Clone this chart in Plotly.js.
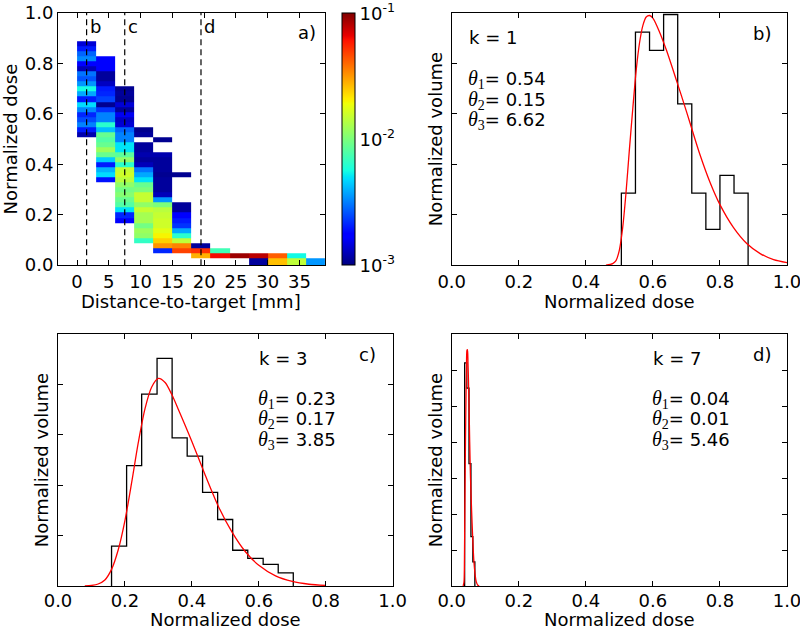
<!DOCTYPE html>
<html><head><meta charset="utf-8">
<script src="https://cdn.plot.ly/plotly-3.0.1.min.js"></script>
<style>html,body{margin:0;padding:0;background:#fff}</style>
</head><body><div id="chart" style="width:800px;height:630px"></div>
<script>
const N = null;
// ---------- Panel a: 2D histogram (fraction of voxels, log colour) ----------
const distanceEdges = [0, 3, 6, 9, 12, 15, 18, 21, 24, 27, 30, 33, 36, 39];
const doseEdges = [0, 0.028, 0.048, 0.068, 0.088, 0.108, 0.128, 0.148, 0.168, 0.188, 0.208,
  0.228, 0.248, 0.268, 0.288, 0.308, 0.328, 0.348, 0.368, 0.388, 0.408, 0.428, 0.448, 0.468,
  0.488, 0.508, 0.528, 0.548, 0.568, 0.588, 0.608, 0.628, 0.648, 0.668, 0.688, 0.708, 0.728,
  0.748, 0.768, 0.788, 0.808, 0.828, 0.848, 0.868, 0.888];
// each array: dose bins from the bottom row upward
const frac_0_3 = [...Array(25).fill(N), 0.0012, 0.002, 0.0032, 0.0025, 0.0021, 0.0033, 0.0048, 0.002,
  0.0038, 0.0056, 0.0035, 0.0026, 0.003, 0.00126, 0.00178, 0.0033, 0.0028, 0.002, 0.00141];
const frac_3_6 = [...Array(16).fill(N), 0.0019, 0.0048, 0.004, 0.002, 0.0045, 0.0089, 0.012, 0.0089,
  0.0079, 0.0089, 0.0042, 0.0063, 0.0032, 0.0032, 0.00224, 0.00107, 0.0024, 0.0021, 0.002, 0.0013,
  0.00112, 0.00112, 0.00178, 0.00166, 0.00178];
const frac_6_9 = [...Array(8).fill(N), 0.00178, 0.0021, 0.005, 0.0079, 0.0089, 0.0105, 0.0095, 0.0112,
  0.0141, 0.0158, 0.0151, 0.0063, 0.0112, 0.0083, 0.005, 0.005, 0.0032, 0.0032, 0.0028, 0.00141,
  0.00132, 0.00158, 0.00112, 0.00141, 0.00107, 0.00112, 0.00107];
const frac_9_12 = [...Array(4).fill(N), 0.0066, 0.0112, 0.012, 0.0095, 0.0126, 0.0126, 0.0151, 0.0112,
  0.0151, 0.0151, 0.01, 0.0089, 0.005, 0.0038, 0.003, 0.00126, 0.00112, 0.0012, 0.00112, 0.00112,
  N, 0.00112, 0.00105];
const frac_12_15 = [N, N, 0.0021, 0.032, 0.024, 0.02, 0.0178, 0.0158, 0.0158, 0.0151, 0.0141, 0.01,
  0.0035, 0.00126, 0.00112, 0.00112, 0.00112, 0.00107, 0.00112, 0.00112, 0.00112, 0.0012, N, N, 0.00107];
const frac_15_18 = [N, N, 0.048, 0.035, 0.0145, 0.0063, 0.0038, 0.00224, 0.002, 0.00174, 0.00112,
  0.00112, N, N, N, N, N, 0.00107];
const frac_18_21 = [N, 0.028, 0.052, 0.00112];
const frac_21_24 = [N, 0.063, 0.0072];
const frac_24_27 = [N, 0.089];
const frac_27_30 = [0.00112, 0.079];
const frac_30_33 = [0.026, 0.042];
const frac_33_36 = [0.0145, 0.0055];
const frac_36_39 = [0.0035];
const sliceDistances = [1.5, 7.5, 19.5];
const sliceLabels = ['b', 'c', 'd'];
const distTicks = [0, 5, 10, 15, 20, 25, 30, 35];
const doseTicks = [0, 0.2, 0.4, 0.6, 0.8, 1.0];
const cbTickVals = [-3, -2, -1];
const cbTickText = ['10<sup>-3</sup>', '10<sup>-2</sup>', '10<sup>-1</sup>'];

// ---------- Panel b (k = 1) ----------
const bEdges = [0.506, 0.548, 0.590, 0.632, 0.674, 0.716, 0.758, 0.800, 0.842, 0.884];
const bHeights = [1.43, 4.62, 4.26, 4.97, 3.20, 1.43, 0.71, 1.78, 1.43];
const bFitX = [0.46, 0.48, 0.49, 0.50, 0.51, 0.52, 0.53, 0.54, 0.55, 0.56, 0.57, 0.58, 0.59, 0.60,
  0.62, 0.64, 0.67, 0.70, 0.72, 0.74, 0.77, 0.80, 0.84, 0.88, 0.92, 0.96, 1.0];
const bFitY = [0, 0.03, 0.09, 0.3, 0.75, 1.45, 2.3, 3.1, 3.85, 4.4, 4.75, 4.92, 4.95, 4.9,
  4.62, 4.27, 3.67, 3.05, 2.62, 2.2, 1.65, 1.2, 0.75, 0.43, 0.23, 0.11, 0.05];

// ---------- Panel c (k = 3) ----------
const cEdges = [0.160, 0.205, 0.250, 0.296, 0.341, 0.386, 0.432, 0.477, 0.522, 0.567, 0.613, 0.658, 0.703];
const cHeights = [0.79, 2.39, 3.81, 4.52, 2.94, 2.58, 1.86, 1.32, 0.71, 0.55, 0.43, 0.26];
const cFitX = [0.08, 0.10, 0.12, 0.14, 0.16, 0.18, 0.20, 0.22, 0.24, 0.26, 0.28, 0.30, 0.32, 0.34,
  0.36, 0.40, 0.44, 0.48, 0.52, 0.56, 0.60, 0.65, 0.70, 0.75, 0.80];
const cFitY = [0, 0.01, 0.04, 0.12, 0.33, 0.72, 1.3, 2.05, 2.85, 3.52, 3.95, 4.12, 4.04, 3.8,
  3.5, 2.87, 2.2, 1.57, 1.07, 0.68, 0.41, 0.2, 0.09, 0.035, 0.01];

// ---------- Panel d (k = 7) ----------
const dEdges = [0.0385, 0.045, 0.0515, 0.0573, 0.063, 0.069];
const dHeights = [62, 55, 34, 13.7, 6.7];
const dFitX = [0.034, 0.0365, 0.038, 0.0395, 0.041, 0.0425, 0.044, 0.0455, 0.047, 0.0485, 0.050,
  0.0517, 0.0536, 0.056, 0.0593, 0.0625, 0.066, 0.0696, 0.073, 0.078, 0.082];
const dFitY = [0, 1, 8, 25, 40, 52, 61, 65.5, 65.7, 62, 57, 50, 40, 30, 21, 13.5, 7, 3.3, 1.2, 0.2, 0];

const panelText = {
  b: {k: 'k = 1', th: ['0.54', '0.15', '6.62']},
  c: {k: 'k = 3', th: ['0.23', '0.17', '3.85']},
  d: {k: 'k = 7', th: ['0.04', '0.01', '5.46']}
};
const xTitles = ['Distance-to-target [mm]', 'Normalized dose', 'Normalized dose', 'Normalized dose'];

// ---------- build ----------
const W = 800, H = 630;
const ML = 58.3, MR = 13.3, MT = 12.7, MB = 44;
const PW = W - ML - MR, PH = H - MT - MB;
const px = v => (v - ML) / PW, py = v => 1 - (v - MT) / PH;
const FONT = 'DejaVu Sans, Arial, sans-serif';

const columns = [frac_0_3, frac_3_6, frac_6_9, frac_9_12, frac_12_15, frac_15_18, frac_18_21,
  frac_21_24, frac_24_27, frac_27_30, frac_30_33, frac_33_36, frac_36_39];
const nRows = doseEdges.length - 1;
const z = [];
for (let r = 0; r < nRows; r++) {
  z.push(columns.map(col => (col[r] == null ? null : Math.log10(col[r]))));
}

const jet = [[0, 'rgb(0,0,128)'], [0.11, 'rgb(0,0,255)'], [0.125, 'rgb(0,0,255)'],
  [0.34, 'rgb(0,219,255)'], [0.35, 'rgb(0,229,247)'], [0.375, 'rgb(21,255,226)'],
  [0.64, 'rgb(239,255,8)'], [0.65, 'rgb(247,245,0)'], [0.66, 'rgb(255,236,0)'],
  [0.89, 'rgb(255,19,0)'], [0.91, 'rgb(232,0,0)'], [1, 'rgb(128,0,0)']];

function step(edges, h) {
  const x = [edges[0]], y = [0];
  for (let i = 0; i < h.length; i++) { x.push(edges[i]); y.push(h[i]); }
  x.push(edges[edges.length - 1]); y.push(0);
  return {x, y};
}

const traces = [];
traces.push({
  type: 'heatmap', x: distanceEdges, y: doseEdges, z: z, xaxis: 'x', yaxis: 'y',
  colorscale: jet, zmin: -3, zmax: -1, zsmooth: false, hoverinfo: 'skip',
  colorbar: {
    x: px(341.7), xanchor: 'left', y: py(139), yanchor: 'middle',
    len: 252.3 / PH, lenmode: 'fraction', thickness: 13, thicknessmode: 'pixels',
    outlinewidth: 1, outlinecolor: 'black', xpad: 0, ypad: 0,
    tickmode: 'array', tickvals: cbTickVals, ticktext: cbTickText, ticks: '',
    ticklabeloverflow: 'allow',
    tickfont: {family: FONT, size: 18, color: 'black'}
  }
});
const panels = [
  ['2', bEdges, bHeights, bFitX, bFitY],
  ['3', cEdges, cHeights, cFitX, cFitY],
  ['4', dEdges, dHeights, dFitX, dFitY]
];
panels.forEach(([n, e, h, fx, fy]) => {
  const s = step(e, h);
  traces.push({type: 'scatter', mode: 'lines', x: s.x, y: s.y, xaxis: 'x' + n, yaxis: 'y' + n,
    line: {color: 'black', width: 1.3, shape: 'hv'}, hoverinfo: 'skip'});
  traces.push({type: 'scatter', mode: 'lines', x: fx, y: fy, xaxis: 'x' + n, yaxis: 'y' + n,
    line: {color: 'red', width: 1.3, shape: 'spline', smoothing: 0.8}, hoverinfo: 'skip'});
});

const axBase = {
  showline: true, linecolor: 'black', linewidth: 1, mirror: 'ticks', ticks: 'inside',
  ticklen: 5, tickwidth: 1, tickcolor: 'black', showgrid: false, zeroline: false,
  ticklabeloverflow: 'allow', automargin: false,
  tickfont: {family: FONT, size: 18, color: 'black'}, fixedrange: true
};
const ttl = (t, so) => ({text: t, font: {family: FONT, size: 18, color: 'black'}, standoff: so});
const ax = (dom, range, dtick, anchor, title, extra) => Object.assign({}, axBase,
  {domain: dom, range: range, dtick: dtick, tick0: 0, anchor: anchor, title: title}, extra || {});
const doseAxisExtra = {tickmode: 'array', tickvals: doseTicks, tickformat: '.1f'};
const doseAxisBottom = Object.assign({}, doseAxisExtra, {ticklabelstandoff: -2});

const domTopY = [py(265), py(12.7)], domBotY = [py(586), py(334)];
const domLX = [px(58.3), px(325)], domLX2 = [px(58.3), px(392.7)], domRX = [px(451.7), px(786.7)];
const noTitle = {text: ''};

const layout = {
  width: W, height: H, margin: {l: ML, r: MR, t: MT, b: MB, pad: 0},
  paper_bgcolor: 'white', plot_bgcolor: 'white', showlegend: false,
  font: {family: FONT, size: 18, color: 'black'},
  xaxis: ax(domLX, [-3, 39], 5, 'y', noTitle, {tickmode: 'array', tickvals: distTicks}),
  yaxis: ax(domTopY, [0, 1], 0.2, 'x', ttl('Normalized dose', 4), doseAxisExtra),
  xaxis2: ax(domRX, [0, 1], 0.2, 'y2', noTitle, doseAxisExtra),
  yaxis2: ax(domTopY, [0, 5], 1, 'x2', ttl('Normalized volume', 3), {showticklabels: false}),
  xaxis3: ax(domLX2, [0, 1], 0.2, 'y3', noTitle, doseAxisBottom),
  yaxis3: ax(domBotY, [0, 5], 1, 'x3', ttl('Normalized volume', 3), {showticklabels: false}),
  xaxis4: ax(domRX, [0, 1], 0.2, 'y4', noTitle, doseAxisBottom),
  yaxis4: ax(domBotY, [0, 70], 10, 'x4', ttl('Normalized volume', 3), {showticklabels: false}),
  shapes: [], annotations: []
};

sliceDistances.forEach((d, i) => {
  layout.shapes.push({type: 'line', xref: 'x', yref: 'y domain', x0: d, x1: d, y0: 0, y1: 1,
    line: {color: 'black', width: 1.2, dash: '6px,4px'}});
  layout.annotations.push({xref: 'x', yref: 'y', x: d, y: 0.945, xanchor: 'left', yanchor: 'middle',
    xshift: 1, text: sliceLabels[i], showarrow: false, font: {family: FONT, size: 18, color: 'black'}});
});

function ann(text, x, y, xanchor, yanchor) {
  layout.annotations.push({xref: 'paper', yref: 'paper', x: px(x), y: py(y), xanchor: xanchor,
    yanchor: yanchor || 'middle', text: text, showarrow: false, borderpad: 0, borderwidth: 0,
    font: {family: FONT, size: 18, color: 'black'}});
}
// x-axis titles, centred under each panel
ann(xTitles[0], (58.3 + 325) / 2, 301, 'center');
ann(xTitles[1], (451.7 + 786.7) / 2, 301, 'center');
ann(xTitles[2], (58.3 + 392.7) / 2, 630, 'center', 'bottom');
ann(xTitles[3], (451.7 + 786.7) / 2, 630, 'center', 'bottom');

ann('a)', 316, 32, 'right');
ann('b)', 771, 33, 'right');
ann('c)', 376, 354, 'right');
ann('d)', 771, 354, 'right');
const th = (i, v) => '<span style="font-family:Liberation Serif;font-size:20px"><i>θ</i><sub>' + i + '</sub></span>= ' + v;
const spots = {b: [468, 37, [79, 100, 120]], c: [258, 358, [399, 419, 440]], d: [652, 358, [399, 419, 440]]};
Object.keys(spots).forEach(p => {
  const [x0, yk, ys] = spots[p];
  ann(panelText[p].k, x0 + 1, yk, 'left');
  panelText[p].th.forEach((v, i) => ann(th(i + 1, v), x0, ys[i], 'left'));
});

Plotly.newPlot('chart', traces, layout, {staticPlot: true, displayModeBar: false});
</script>
</body></html>
